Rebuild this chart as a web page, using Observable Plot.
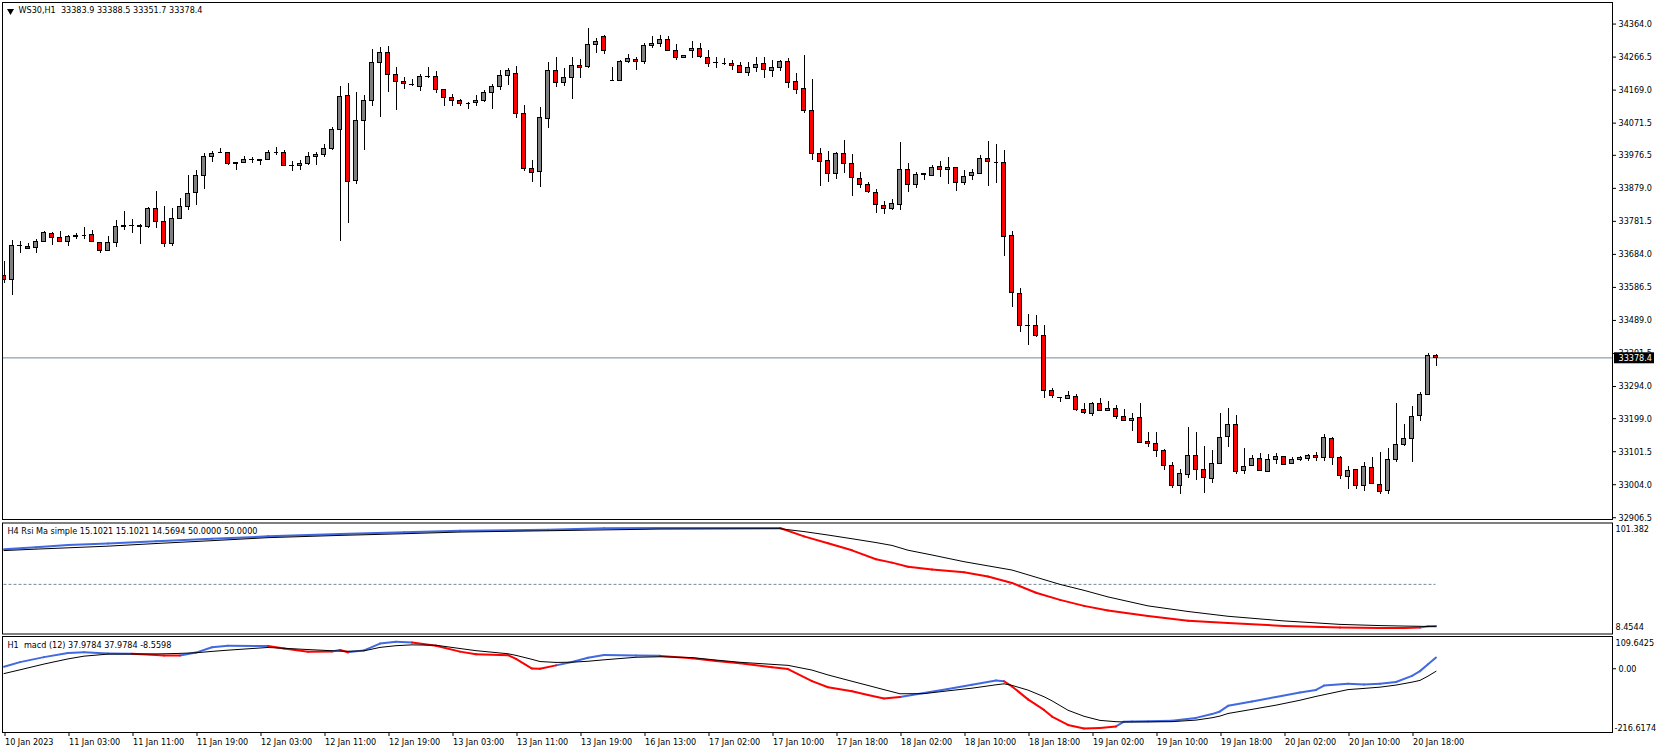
<!DOCTYPE html>
<html><head><meta charset="utf-8">
<script src="https://cdn.jsdelivr.net/npm/d3@7"></script>
<script src="https://cdn.jsdelivr.net/npm/@observablehq/plot@0.6"></script>
<style>
html,body{margin:0;padding:0;background:#fff;overflow:hidden;}
#chart{position:relative;width:1658px;height:753px;background:#fff;}
#chart svg text{white-space:pre;}
</style></head><body><div id="chart"></div>
<script>
// ---------------- DATA ----------------
const symbol = "WS30,H1";
const lastBarOHLC = [33383.9, 33388.5, 33351.7, 33378.4];

const opens = [
33619,33609,33709,33706,33703,33721,33745,33733,33721,33736,
33739,33742,33718,33695,33718,33765,33767,33768,33766,33819,
33780,33715,33789,33824,33866,33916,33972,33984,33984,33951,
33953,33963,33962,33963,33984,33984,33945,33945,33951,33972,
33978,33996,34052,34152,33901,34078,34137,34250,34279,34214,
34193,34185,34179,34208,34208,34170,34146,34137,34129,34131,
34137,34161,34179,34211,34217,34099,33937,33928,34084,34226,
34190,34205,34241,34238,34303,34326,34196,34196,34252,34258,
34252,34300,34306,34317,34285,34264,34285,34291,34264,34249,
34249,34247,34241,34220,34235,34247,34226,34235,34252,34193,
34173,34108,33980,33960,33922,33981,33951,33907,33889,33866,
33827,33818,33830,33934,33889,33918,33916,33942,33934,33940,
33895,33916,33922,33966,33954,33954,33739,33568,33473,33473,
33444,33281,33260,33258,33263,33225,33213,33243,33222,33228,
33204,33193,33201,33131,33125,33104,33060,33001,33033,33089,
33048,33021,33066,33145,33181,33045,33060,33080,33042,33077,
33086,33066,33077,33080,33089,33083,33139,33083,33027,33048,
33001,33054,33004,32986,33077,33122,33139,33207,33269,33383.9];
const highs = [
33663,33725,33721,33715,33727,33752,33748,33752,33739,33747,
33762,33755,33718,33736,33784,33811,33787,33771,33821,33870,
33825,33820,33849,33918,33931,33981,33989,33997,33984,33956,
33972,33969,33964,33990,34000,33990,33957,33960,33984,33984,
34007,34058,34179,34188,34161,34152,34288,34294,34297,34235,
34205,34199,34214,34235,34223,34170,34155,34142,34133,34152,
34167,34185,34226,34232,34238,34123,33960,34117,34250,34264,
34232,34264,34258,34350,34320,34329,34235,34255,34273,34264,
34306,34326,34329,34326,34303,34270,34312,34306,34285,34264,
34261,34255,34252,34250,34264,34264,34255,34255,34261,34217,
34270,34199,33996,33987,33984,34019,33978,33925,33895,33875,
33839,33845,34013,33951,33925,33922,33945,33957,33969,33942,
33931,33934,33975,34016,34007,33990,33751,33582,33506,33503,
33473,33287,33261,33278,33269,33243,33246,33260,33249,33237,
33225,33213,33243,33157,33157,33107,33069,33048,33172,33157,
33116,33104,33213,33228,33207,33110,33089,33095,33092,33095,
33086,33083,33086,33092,33098,33151,33142,33086,33057,33048,
33069,33083,33098,33110,33243,33181,33234,33275,33390,33388.5];
const lows = [
33597,33564,33686,33699,33688,33720,33711,33720,33708,33727,
33727,33718,33686,33692,33703,33754,33745,33712,33759,33759,
33703,33706,33788,33814,33829,33877,33956,33983,33945,33933,
33951,33951,33947,33962,33977,33944,33930,33933,33945,33945,
33971,33992,33723,33776,33891,33992,34122,34089,34163,34110,
34172,34181,34166,34204,34158,34122,34122,34122,34113,34122,
34131,34113,34167,34184,34084,33928,33897,33882,34055,34176,
34179,34142,34202,34232,34276,34273,34193,34196,34247,34226,
34244,34291,34294,34282,34255,34264,34261,34261,34235,34232,
34241,34226,34217,34208,34220,34202,34205,34223,34173,34155,
34099,33960,33885,33897,33904,33922,33856,33879,33863,33806,
33803,33815,33815,33868,33879,33901,33913,33910,33889,33871,
33886,33903,33922,33885,33894,33679,33528,33452,33414,33438,
33258,33258,33246,33258,33219,33210,33204,33222,33222,33198,
33190,33160,33125,33113,33083,33045,32992,32974,33021,33015,
32977,33007,33063,33113,33033,33033,33059,33045,33042,33063,
33063,33066,33074,33074,33074,33074,33060,33018,32989,32989,
32983,33004,32974,32974,33071,33116,33069,33190,33269,33351.7];
const closes = [
33609,33709,33710,33700,33721,33748,33733,33721,33736,33739,
33739,33721,33695,33718,33765,33767,33768,33765,33819,33780,
33715,33789,33824,33863,33916,33972,33981,33984,33951,33953,
33963,33962,33961,33984,33984,33945,33946,33951,33972,33978,
33996,34052,34149,33897,34078,34137,34250,34279,34214,34192,
34188,34183,34208,34209,34170,34146,34137,34128,34129,34137,
34161,34179,34211,34226,34099,33937,33925,34087,34226,34190,
34205,34241,34235,34303,34312,34285,34196,34252,34261,34252,
34300,34306,34317,34285,34264,34270,34291,34267,34247,34248,
34249,34241,34220,34235,34244,34229,34235,34252,34190,34170,
34108,33980,33957,33922,33981,33951,33910,33889,33869,33830,
33819,33833,33934,33889,33919,33920,33940,33934,33940,33895,
33913,33925,33966,33957,33954,33736,33570,33473,33472,33444,
33281,33266,33259,33266,33225,33216,33243,33222,33228,33204,
33193,33198,33128,33125,33104,33060,33001,33036,33089,33048,
33024,33066,33142,33181,33042,33057,33080,33045,33077,33086,
33063,33077,33083,33089,33083,33142,33083,33030,33045,33001,
33057,33007,32983,33077,33122,33139,33204,33269,33384,33378.4];

const priceTicks = [34364.0,34266.5,34169.0,34071.5,33976.5,33879.0,33781.5,33684.0,
  33586.5,33489.0,33391.5,33294.0,33199.0,33101.5,33004.0,32906.5];

const timeLabels = ["10 Jan 2023","11 Jan 03:00","11 Jan 11:00","11 Jan 19:00","12 Jan 03:00",
  "12 Jan 11:00","12 Jan 19:00","13 Jan 03:00","13 Jan 11:00","13 Jan 19:00","16 Jan 13:00",
  "17 Jan 02:00","17 Jan 10:00","17 Jan 18:00","18 Jan 02:00","18 Jan 10:00","18 Jan 18:00",
  "19 Jan 02:00","19 Jan 10:00","19 Jan 18:00","20 Jan 02:00","20 Jan 10:00","20 Jan 18:00"];
const barsPerLabel = 8;

// H4 RSI MA panel (sampled at bar indices)
const rsiTitle = "H4 Rsi Ma simple";
const rsiHeaderValues = [15.1021, 15.1021, 14.5694, 50.0000, 50.0000];
const rsiScale = [8.4544, 101.382];
const rsiLevel = 50;
const rsiBars = [0,4,8,13,19,26,33,42,50,57,68,75,82,97,100,103,106,109,111,113,
  116,120,123,126,129,132,135,138,143,148,153,160,167,172,175,177,178,179];
const rsiMain = [79.4,81.0,83.0,84.3,86.1,88.1,90.2,92.1,93.7,94.9,95.8,96.9,97.2,97.2,90.2,84.4,78.5,71.0,68.2,64.8,
  62.4,60.2,56.6,51.2,43.0,37.0,32.0,28.2,23.5,19.5,17.6,15.2,13.9,13.5,13.4,13.8,14.9,15.1];
const rsiSignal = [78.3,79.5,80.6,82.0,84.2,86.6,89.1,91.0,92.4,93.8,94.9,95.6,96.3,96.6,94.2,91.3,88.2,85.0,82.6,78.6,
  74.6,69.0,65.5,62.0,56.0,50.0,45.0,39.5,32.0,27.3,23.3,19.4,16.5,15.5,15.1,14.9,14.7,14.57];

// H1 MACD panel
const macdTitle = "H1  macd (12)";
const macdHeaderValues = [37.9784, 37.9784, -8.5598];
const macdScale = [-216.6174, 109.6425];
const macdBars = [0,2,5,8,10,13,16,19,20,22,24,26,28,33,35,38,41,42,43,45,
  47,49,51,54,57,59,63,64,66,67,69,71,73,75,79,82,86,89,92,96,
  98,101,103,106,108,110,112,115,118,121,124,125,126,128,130,131,133,135,137,139,
  140,141,143,146,149,151,152,153,156,159,162,164,165,168,170,172,174,176,177,178,179];
const macdMain = [6.7,22.5,39.5,53.5,56.0,51.5,50.8,46.5,44.9,44.9,55.0,73.0,78.3,77.0,68.5,57.6,58.9,64.0,56.0,62.5,
  85.5,92.0,89.0,78.0,58.2,49.0,46.2,33.5,0.8,-0.3,11.5,22.8,37.5,46.5,44.9,43.8,35.5,26.2,18.8,5.5,
  -1.0,-42.0,-62.7,-76.2,-89.1,-100.9,-96.0,-82.5,-68.7,-54.0,-40.0,-42.5,-60.0,-104.0,-140.0,-162.5,-191.0,-203.0,-201.0,-196.0,
  -180.0,-179.5,-178.5,-177.0,-167.0,-154.0,-145.0,-126.0,-111.3,-95.8,-80.5,-72.0,-57.0,-51.2,-53.5,-51.2,-45.0,-24.0,-8.0,15.0,38.0];
const macdSignal = [-16.4,-3.6,16.0,33.5,42.8,49.8,50.0,50.5,50.9,52.2,54.4,59.0,63.2,72.4,69.6,65.3,61.3,59.9,59.5,60.9,
  72.6,78.4,81.2,80.0,68.8,61.5,51.0,45.5,32.0,24.5,21.5,22.3,25.5,30.4,39.1,40.8,38.0,29.6,22.0,15.0,
  11.6,-4.5,-21.0,-42.6,-56.7,-71.0,-85.0,-84.5,-75.0,-66.0,-54.5,-51.2,-56.5,-72.5,-95.0,-109.0,-141.0,-161.5,-175.5,-179.9,
  -180.7,-180.8,-180.6,-179.8,-174.5,-166.5,-160.8,-152.0,-138.0,-123.7,-107.0,-94.0,-88.2,-70.8,-66.8,-62.5,-55.5,-45.5,-39.6,-25.0,-8.6];

// ---------------- BUILD ----------------
const FONT = "'DejaVu Sans Condensed','Liberation Sans Narrow','DejaVu Sans',sans-serif";
const BLUE = "#4169e1", RED = "#ff0000", BULL = "#808080", SLATE = "#778899";
const nBars = opens.length;
const xDomain = [-0.1875, nBars - 1 + 22.0625];
const candles = opens.map((o, i) => ({i, o, h: highs[i], l: lows[i], c: closes[i]}));
const lastClose = closes[nBars - 1];
const fmt1 = d => d.toFixed(1);

function baseStyle(top) {
  return {position: "absolute", left: "0px", top: top + "px", fontFamily: FONT, fontStretch: "condensed",
          fontSize: "9px", color: "black", background: "transparent", overflow: "visible"};
}
function segments(bars, main, sig) {
  const out = [];
  for (let k = 1; k < bars.length; k++)
    out.push({x1: bars[k-1], y1: main[k-1], x2: bars[k], y2: main[k], up: main[k] >= sig[k]});
  return out;
}
const chart = document.getElementById("chart");

// ---- Main price panel ----
const hw = 0.25;
const main = Plot.plot({
  width: 1658, height: 520, marginLeft: 2, marginRight: 46, marginTop: 2, marginBottom: 1,
  style: baseStyle(0),
  x: {domain: xDomain, axis: null},
  y: {domain: [32901.3, 34427.7], axis: null},
  marks: [
    Plot.ruleY([lastClose], {stroke: SLATE, strokeWidth: 1}),
    Plot.ruleX(candles, {x: "i", y1: "l", y2: "h", stroke: "black", strokeWidth: 1, clip: true, shapeRendering: "crispEdges"}),
    Plot.rect(candles.filter(d => d.c > d.o), {x1: d => d.i - hw, x2: d => d.i + hw, y1: "o", y2: "c",
      fill: BULL, stroke: "black", strokeWidth: 1, clip: true, shapeRendering: "crispEdges"}),
    Plot.rect(candles.filter(d => d.c < d.o), {x1: d => d.i - hw, x2: d => d.i + hw, y1: "c", y2: "o",
      fill: RED, stroke: "black", strokeWidth: 1, clip: true, shapeRendering: "crispEdges"}),
    Plot.ruleY(candles.filter(d => d.c === d.o), {y: "o", x1: d => d.i - hw, x2: d => d.i + hw,
      stroke: "black", strokeWidth: 1, clip: true, shapeRendering: "crispEdges"}),
    Plot.frame({stroke: "black", strokeWidth: 1}),
    Plot.axisY(priceTicks, {anchor: "right", tickSize: 3, tickPadding: 3, tickFormat: fmt1, stroke: "black", color: "black", label: null}),
    Plot.text([lastClose], {y: d => d, frameAnchor: "right", dx: 6, textAnchor: "start", text: fmt1,
      fill: "white"}),
    Plot.dot([symbol], {frameAnchor: "top-left", dx: 8, dy: 8.5, symbol: "triangle", rotate: 180, r: 2.6, fill: "black", stroke: null}),
    Plot.text([`${symbol}  ${lastBarOHLC.map(fmt1).join(" ")}`], {frameAnchor: "top-left", dx: 16, dy: 4,
      textAnchor: "start", lineAnchor: "top", text: d => d, fill: "black"})
  ]
});
chart.appendChild(main);
// black box behind the last-price label (sized and placed from the rendered text)
{
  const label = fmt1(lastClose);
  const t = Array.from(main.querySelectorAll("text")).find(el => el.textContent === label &&
    (el.getAttribute("fill") === "white" || (el.parentNode && el.parentNode.getAttribute("fill") === "white")));
  if (t) {
    const b = t.getBBox();
    const r = document.createElementNS("http://www.w3.org/2000/svg", "rect");
    r.setAttribute("x", b.x - 4.5); r.setAttribute("y", b.y - 0.5);
    r.setAttribute("width", b.width + 6.5); r.setAttribute("height", b.height + 1);
    r.setAttribute("fill", "black");
    const tr = t.getAttribute("transform");
    if (tr) r.setAttribute("transform", tr);
    t.parentNode.insertBefore(r, t);
  }
}

// ---- RSI panel ----
const rsiSegs = segments(rsiBars, rsiMain, rsiSignal);
const rsi = Plot.plot({
  width: 1658, height: 114, marginLeft: 2, marginRight: 46, marginTop: 2.5, marginBottom: 0.5,
  style: baseStyle(520),
  x: {domain: xDomain, axis: null},
  y: {domain: rsiScale, axis: null},
  marks: [
    Plot.ruleY([rsiLevel], {x1: 0, x2: nBars - 1, stroke: SLATE, strokeDasharray: "3,2"}),
    Plot.link(rsiSegs.filter(d => d.up), {x1: "x1", y1: "y1", x2: "x2", y2: "y2", stroke: BLUE, strokeWidth: 2, strokeLinecap: "round"}),
    Plot.link(rsiSegs.filter(d => !d.up), {x1: "x1", y1: "y1", x2: "x2", y2: "y2", stroke: RED, strokeWidth: 2, strokeLinecap: "round"}),
    Plot.line(rsiBars.map((b, k) => ({b, v: rsiSignal[k]})), {x: "b", y: "v", stroke: "black", strokeWidth: 1}),
    Plot.frame({stroke: "black", strokeWidth: 1}),
    Plot.text([`${rsiTitle} ${rsiHeaderValues.map(v => v.toFixed(4)).join(" ")}`], {frameAnchor: "top-left", dx: 5, dy: 5,
      textAnchor: "start", lineAnchor: "top", text: d => d, fill: "black"}),
    Plot.text([rsiScale[1]], {frameAnchor: "top-right", dx: 3, dy: 3, textAnchor: "start", lineAnchor: "top", text: d => String(d), fill: "black"}),
    Plot.text([rsiScale[0]], {frameAnchor: "bottom-right", dx: 3, dy: -4, textAnchor: "start", lineAnchor: "bottom", text: d => String(d), fill: "black"})
  ]
});
chart.appendChild(rsi);

// ---- MACD panel ----
const macdSegs = segments(macdBars, macdMain, macdSignal);
const tickBars = timeLabels.map((_, k) => k * barsPerLabel);
const labelByBar = new Map(tickBars.map((b, k) => [b, timeLabels[k]]));
const macd = Plot.plot({
  width: 1658, height: 119, marginLeft: 2, marginRight: 46, marginTop: 2, marginBottom: 21,
  style: baseStyle(634),
  x: {domain: xDomain, axis: null},
  y: {domain: macdScale, axis: null},
  marks: [
    Plot.link(macdSegs.filter(d => d.up), {x1: "x1", y1: "y1", x2: "x2", y2: "y2", stroke: BLUE, strokeWidth: 2, strokeLinecap: "round"}),
    Plot.link(macdSegs.filter(d => !d.up), {x1: "x1", y1: "y1", x2: "x2", y2: "y2", stroke: RED, strokeWidth: 2, strokeLinecap: "round"}),
    Plot.line(macdBars.map((b, k) => ({b, v: macdSignal[k]})), {x: "b", y: "v", stroke: "black", strokeWidth: 1}),
    Plot.frame({stroke: "black", strokeWidth: 1}),
    Plot.axisY([0], {anchor: "right", tickSize: 3, tickPadding: 3, tickFormat: d => d.toFixed(2), stroke: "black", color: "black", label: null}),
    Plot.axisX(tickBars, {anchor: "bottom", tickSize: 4, tickPadding: 2, tickFormat: d => labelByBar.get(d),
      textAnchor: "start", dx: 1, stroke: "black", color: "black", label: null}),
    Plot.text([`${macdTitle} ${macdHeaderValues.map(v => v.toFixed(4)).join(" ")}`], {frameAnchor: "top-left", dx: 5, dy: 5,
      textAnchor: "start", lineAnchor: "top", text: d => d, fill: "black"}),
    Plot.text([macdScale[1]], {frameAnchor: "top-right", dx: 3, dy: 3, textAnchor: "start", lineAnchor: "top", text: d => String(d), fill: "black"}),
    Plot.text([macdScale[0]], {frameAnchor: "bottom-right", dx: 2, dy: -2, textAnchor: "start", lineAnchor: "bottom", text: d => String(d), fill: "black"})
  ]
});
chart.appendChild(macd);
</script></body></html>
